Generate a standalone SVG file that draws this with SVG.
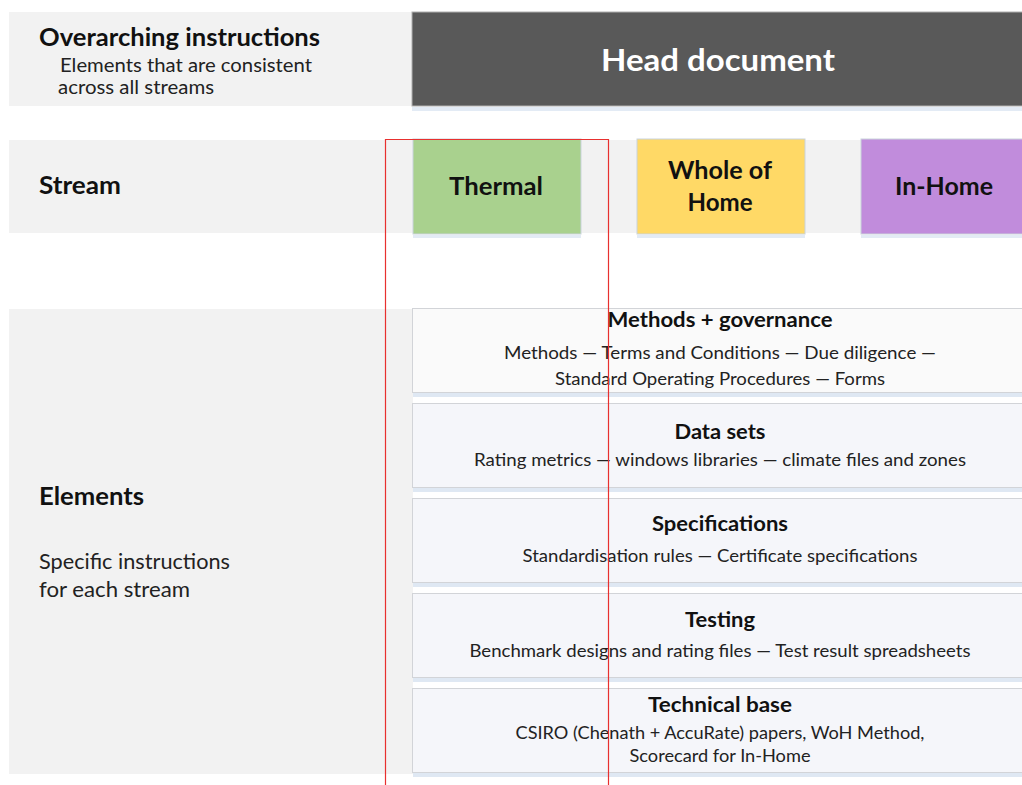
<svg xmlns="http://www.w3.org/2000/svg" width="1022" height="785" viewBox="0 0 1022 785">
<defs>
<style>
.band{fill:#f2f2f2}
.t{font-family:Lato,"Open Sans","Liberation Sans",sans-serif;fill:#111}
.h{font-weight:bold;font-size:24px}
.sub{font-size:18.5px;fill:#222}
.box{fill:#f5f6fa;stroke:#d2d4d8;stroke-width:1}
.shadow{fill:#dfe8f3}
.bt{font-weight:bold;font-size:20.5px;text-anchor:middle}
.bl{font-size:17.5px;text-anchor:middle;fill:#222}
.st{font-weight:bold;font-size:25px;text-anchor:middle}
</style>
</defs>
<rect width="1022" height="785" fill="#ffffff"/>
<g id="bands">
<rect class="band" x="9" y="12" width="404" height="94"/>
<rect class="band" x="9" y="140" width="1013" height="93"/>
<rect class="band" x="9" y="309" width="404" height="465"/>
</g>
<g id="overarching">
<text class="t h" x="39" y="46" textLength="281" lengthAdjust="spacingAndGlyphs">Overarching instructions</text>
<text class="t sub" x="60" y="72" textLength="252" lengthAdjust="spacingAndGlyphs">Elements that are consistent</text>
<text class="t sub" x="58" y="94" textLength="156" lengthAdjust="spacingAndGlyphs">across all streams</text>
</g>
<g id="head">
<rect x="412" y="107" width="612" height="4" fill="#e3ebf5"/>
<rect x="412" y="12" width="612" height="94" fill="#595959" stroke="#b0b0b0" stroke-width="1"/>
<text class="t" x="718" y="71" font-size="31" font-weight="bold" text-anchor="middle" style="fill:#fff" textLength="234" lengthAdjust="spacingAndGlyphs">Head document</text>
</g>
<g id="stream-label"><text class="t h" x="39" y="194" textLength="82" lengthAdjust="spacingAndGlyphs">Stream</text></g>
<g id="thermal">
<rect x="413" y="235" width="168" height="3" fill="#e3ebf5"/>
<rect x="413" y="139" width="168" height="95" fill="#a9d18e" stroke="#c9d3dc"/>
<text class="t st" x="496" y="195" textLength="94" lengthAdjust="spacingAndGlyphs">Thermal</text>
</g>
<g id="whole-of-home">
<rect x="637" y="235" width="168" height="3" fill="#e3ebf5"/>
<rect x="637" y="139" width="168" height="95" fill="#ffd966" stroke="#c9d3dc"/>
<text class="t st" x="720" y="179" textLength="104" lengthAdjust="spacingAndGlyphs">Whole of</text>
<text class="t st" x="720" y="211" textLength="65" lengthAdjust="spacingAndGlyphs">Home</text>
</g>
<g id="in-home">
<rect x="861" y="235" width="170" height="3" fill="#e3ebf5"/>
<rect x="861" y="139" width="170" height="95" fill="#c18cdc" stroke="#c9d3dc"/>
<text class="t st" x="944" y="195" textLength="98" lengthAdjust="spacingAndGlyphs">In-Home</text>
</g>
<g id="elements-label">
<text class="t h" x="39" y="505" textLength="105" lengthAdjust="spacingAndGlyphs">Elements</text>
<text class="t" x="39" y="569" font-size="20.5" style="fill:#222" textLength="191" lengthAdjust="spacingAndGlyphs">Specific instructions</text>
<text class="t" x="39" y="597" font-size="20.5" style="fill:#222" textLength="151" lengthAdjust="spacingAndGlyphs">for each stream</text>
</g>
<g id="methods">
<rect class="shadow" x="413" y="393" width="616" height="4"/>
<rect class="box" x="412.5" y="308.5" width="616" height="84" style="fill:#fafafa"/>
<text class="t bt" x="720" y="327" textLength="225" lengthAdjust="spacingAndGlyphs">Methods + governance</text>
<text class="t bl" x="720" y="359" textLength="432" lengthAdjust="spacingAndGlyphs">Methods — Terms and Conditions — Due diligence —</text>
<text class="t bl" x="720" y="385" textLength="330" lengthAdjust="spacingAndGlyphs">Standard Operating Procedures — Forms</text>
</g>
<g id="data-sets">
<rect class="shadow" x="413" y="488" width="616" height="4"/>
<rect class="box" x="412.5" y="403.5" width="616" height="84"/>
<text class="t bt" x="720" y="439" textLength="91" lengthAdjust="spacingAndGlyphs">Data sets</text>
<text class="t bl" x="720" y="466" textLength="492" lengthAdjust="spacingAndGlyphs">Rating metrics — windows libraries — climate files and zones</text>
</g>
<g id="specifications">
<rect class="shadow" x="413" y="583" width="616" height="4"/>
<rect class="box" x="412.5" y="498.5" width="616" height="84"/>
<text class="t bt" x="720" y="531" textLength="136" lengthAdjust="spacingAndGlyphs">Specifications</text>
<text class="t bl" x="720" y="562" textLength="395" lengthAdjust="spacingAndGlyphs">Standardisation rules — Certificate specifications</text>
</g>
<g id="testing">
<rect class="shadow" x="413" y="678" width="616" height="4"/>
<rect class="box" x="412.5" y="593.5" width="616" height="84"/>
<text class="t bt" x="720" y="627" textLength="70" lengthAdjust="spacingAndGlyphs">Testing</text>
<text class="t bl" x="720" y="657" textLength="501" lengthAdjust="spacingAndGlyphs">Benchmark designs and rating files — Test result spreadsheets</text>
</g>
<g id="technical-base">
<rect class="shadow" x="413" y="773" width="616" height="4"/>
<rect class="box" x="412.5" y="688.5" width="616" height="84"/>
<text class="t bt" x="720" y="712" textLength="144" lengthAdjust="spacingAndGlyphs">Technical base</text>
<text class="t bl" x="720" y="739" textLength="409" lengthAdjust="spacingAndGlyphs">CSIRO (Chenath + AccuRate) papers, WoH Method,</text>
<text class="t bl" x="720" y="762" textLength="181" lengthAdjust="spacingAndGlyphs">Scorecard for In-Home</text>
</g>
<g id="connectors">
<path d="M385.5,786 V139.5 H608.5 V786" fill="none" stroke="#e8302f" stroke-width="1.2"/>
</g>
</svg>
